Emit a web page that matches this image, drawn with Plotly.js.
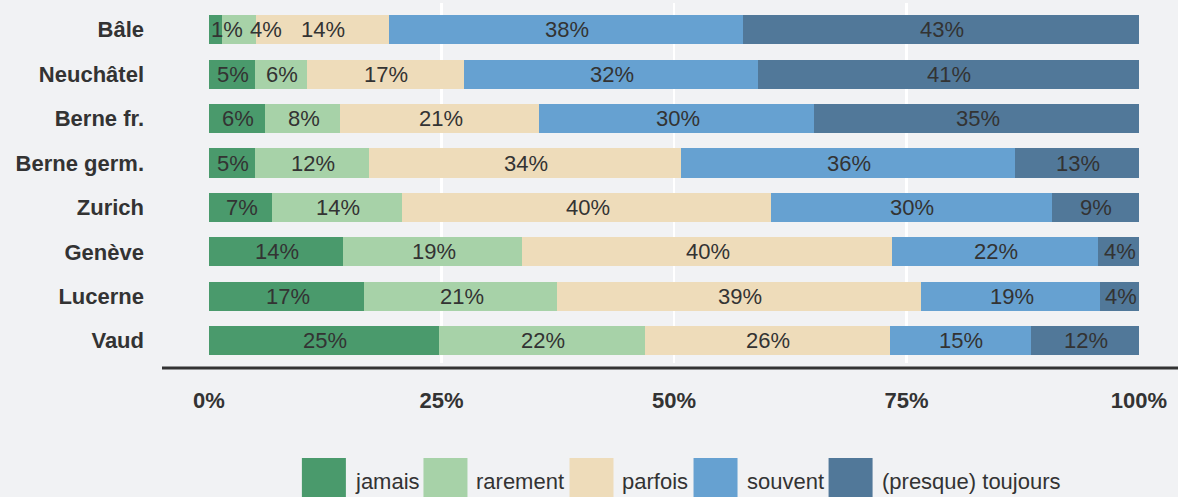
<!DOCTYPE html>
<html><head><meta charset="utf-8">
<script src="https://cdn.plot.ly/plotly-3.0.1.min.js"></script>
<style>html,body{margin:0;padding:0;background:#f1f2f4;}#chart{width:1178px;height:497px;}</style>
</head><body><div id="chart"></div>
<script>
const cantons = ['Bâle','Neuchâtel','Berne fr.','Berne germ.','Zurich','Genève','Lucerne','Vaud'];
const seriesNames = ['jamais','rarement','parfois','souvent','(presque) toujours'];
const jamais   = [1.4, 4.9, 6.0, 4.9, 6.8, 14.4, 16.7, 24.7];
const rarement = [3.6, 5.6, 8.1, 12.3, 14.0, 19.3, 20.7, 22.2];
const parfois  = [14.4, 16.9, 21.4, 33.6, 39.6, 39.7, 39.2, 26.3];
const souvent  = [38.0, 31.6, 29.6, 35.9, 30.2, 22.2, 19.2, 15.2];
const toujours = [42.6, 41.0, 34.9, 13.3, 9.4, 4.4, 4.2, 11.6];
const xTicks = [0, 25, 50, 75, 100];
const xTickText = ['0%', '25%', '50%', '75%', '100%'];

const series = [jamais, rarement, parfois, souvent, toujours];
const colors = ['#4a9a6c', '#a7d2a8', '#eedcba', '#66a1d1', '#517899'];
const FONT = 'Liberation Sans, Arial, sans-serif';
const TXT = '#333333';

// layout geometry (pixels)
const W = 1178, H = 497;
const M = {l: 209, r: 39, t: 3, b: 134};
const plotW = W - M.l - M.r;
const plotH = H - M.t - M.b;
const pxPerUnit = plotW / 100;

const cv = document.createElement('canvas').getContext('2d');
function textW(s, size, weight) {
  cv.font = (weight || 'normal') + ' ' + size + 'px "Liberation Sans", Arial, sans-serif';
  return cv.measureText(s).width;
}

const traces = series.map((vals, i) => ({
  type: 'bar', orientation: 'h', name: seriesNames[i],
  y: cantons, x: vals,
  marker: {color: colors[i], line: {width: 0}},
  hoverinfo: 'skip'
}));

// value labels, centred in each segment, pushed right when they would overlap
const annotations = [];
cantons.forEach((c, r) => {
  let cum = 0, prevRight = -Infinity;
  series.forEach((vals, i) => {
    const v = vals[r];
    const label = Math.round(v) + '%';
    const w = textW(label, 22);
    const startPx = cum * pxPerUnit, endPx = (cum + v) * pxPerUnit;
    let left = (startPx + endPx) / 2 - w / 2;
    left = Math.max(left, startPx + 1, prevRight + 7);
    prevRight = left + w;
    annotations.push({
      x: left / pxPerUnit, y: c, xref: 'x', yref: 'y', xanchor: 'left', yanchor: 'middle',
      text: label, showarrow: false, borderpad: 0,
      font: {family: FONT, size: 22, color: TXT}
    });
    cum += v;
  });
});

// custom legend (large swatches)
const sw = 44, gapT = 8, gapN = 6;
const widths = seriesNames.map(s => textW(s, 22));
const total = widths.reduce((a, b) => a + b, 0) + seriesNames.length * (sw + gapT) + (seriesNames.length - 1) * gapN;
let xpx = 680.5 - total / 2;
const toPX = px => (px - M.l) / plotW;
const toPY = py => (H - M.b - py) / plotH;
const shapes = [{
  type: 'line', xref: 'paper', yref: 'paper',
  x0: toPX(162), x1: toPX(1180), y0: toPY(368), y1: toPY(368),
  line: {color: '#333333', width: 3}
}];
seriesNames.forEach((s, i) => {
  shapes.push({type: 'rect', xref: 'paper', yref: 'paper',
    x0: toPX(xpx), x1: toPX(xpx + sw), y0: toPY(458), y1: toPY(504),
    fillcolor: colors[i], line: {width: 0}});
  xpx += sw + gapT;
  annotations.push({x: toPX(xpx), y: toPY(481), xref: 'paper', yref: 'paper',
    xanchor: 'left', yanchor: 'middle', text: s, showarrow: false, borderpad: 0,
    font: {family: FONT, size: 22, color: TXT}});
  xpx += widths[i] + gapN;
});

const layout = {
  width: W, height: H,
  paper_bgcolor: '#f1f2f4', plot_bgcolor: '#f1f2f4',
  margin: {l: M.l, r: M.r, t: M.t, b: M.b, pad: 0},
  barmode: 'stack', bargap: 0.347, showlegend: false,
  font: {family: FONT, size: 22, color: TXT},
  xaxis: {range: [0, 100], tickvals: xTicks, ticktext: xTickText, showgrid: true,
    gridcolor: '#ffffff', gridwidth: 2.5, zeroline: false, showline: false, ticks: '',
    tickfont: {family: FONT, size: 22, weight: 700, color: TXT}, ticklabelstandoff: 22, fixedrange: true},
  yaxis: {type: 'category', categoryorder: 'array', categoryarray: cantons, range: [7.5, -0.6],
    showgrid: false, zeroline: false, showline: false, ticks: '',
    tickfont: {family: FONT, size: 22, weight: 700, color: TXT}, ticklabelstandoff: 64, fixedrange: true},
  shapes: shapes,
  annotations: annotations
};
Plotly.newPlot('chart', traces, layout, {displayModeBar: false, staticPlot: true});
</script>
</body></html>
